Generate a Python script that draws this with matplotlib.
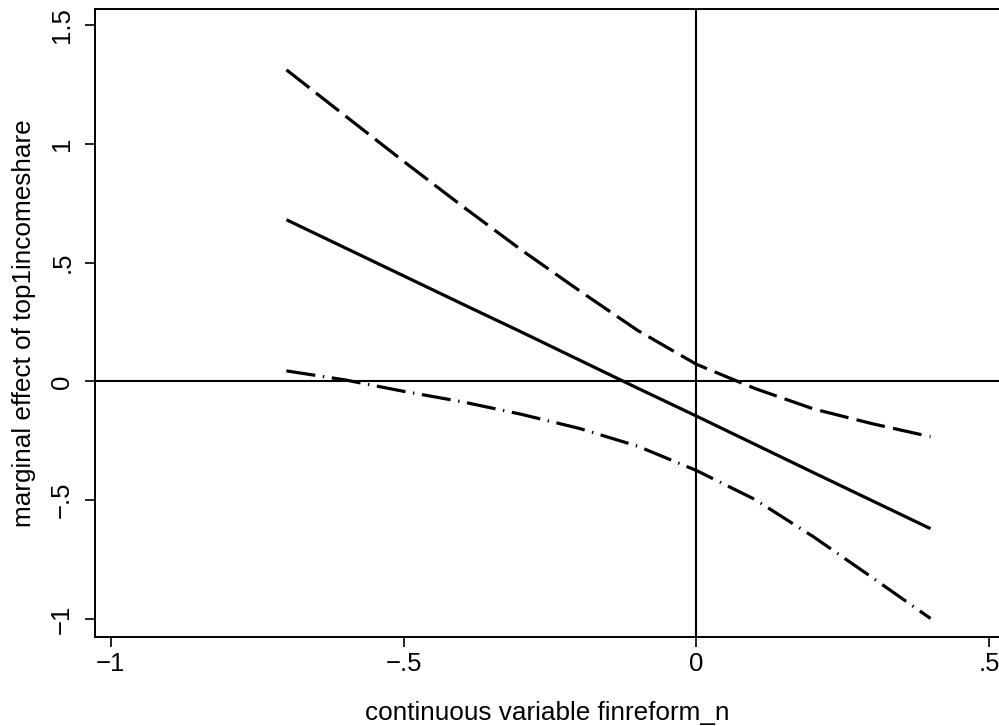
import matplotlib
matplotlib.use('Agg')
import matplotlib.pyplot as plt
import numpy as np

plt.rcParams['font.family'] = ['Liberation Sans', 'DejaVu Sans']
plt.rcParams['lines.scale_dashes'] = False

# values
finreform = [-0.7, -0.6, -0.5, -0.4, -0.3, -0.2, -0.1, 0.0, 0.1, 0.2, 0.3, 0.4]
effect = [0.68, 0.562, 0.444, 0.326, 0.209, 0.09, -0.029, -0.146, -0.265, -0.384, -0.502, -0.62]
upper = [1.311, 1.118, 0.926, 0.738, 0.555, 0.382, 0.214, 0.072, -0.030, -0.116, -0.178, -0.233]
lower = [0.044, 0.006, -0.042, -0.086, -0.138, -0.198, -0.273, -0.375, -0.497, -0.654, -0.825, -0.998]

xticks = [-1, -0.5, 0, 0.5]
xticklabels = ['\u22121', '\u2212.5', '0', '.5']
yticks = [-1, -0.5, 0, 0.5, 1, 1.5]
yticklabels = ['\u22121', '\u2212.5', '0', '.5', '1', '1.5']

fig = plt.figure(figsize=(9.99, 7.26), dpi=100)
ax = fig.add_axes([95/999, 1 - 637/726, 1 - 95/999, (637 - 9)/726])

ax.axhline(0, color='black', lw=1.5, zorder=1)
ax.axvline(0, color='black', lw=1.5, zorder=1)

ax.plot(finreform, effect, color='black', lw=2.3, solid_capstyle='butt')
ax.plot(finreform, upper, color='black', lw=2.3, dashes=(21, 6), dash_capstyle='butt')
ax.plot(finreform, lower, color='black', lw=2.3, dashes=(21, 5.5, 1, 5.5), dash_capstyle='butt')

ax.set_xlim(-1.027, 0.517)
ax.set_ylim(-1.076, 1.567)

ax.set_xticks(xticks)
ax.set_xticklabels(xticklabels)
ax.set_yticks(yticks)
ax.set_yticklabels(yticklabels, rotation=90, va='center')
ax.tick_params(axis='x', direction='out', length=7, width=1.2, labelsize=18.5, pad=4)
ax.tick_params(axis='y', direction='out', length=7, width=1.2, labelsize=18.5, pad=8)

ax.spines['right'].set_visible(False)
for s in ['left', 'bottom', 'top']:
    ax.spines[s].set_linewidth(1.4)

ax.set_xlabel('continuous variable finreform_n', fontsize=18.8, labelpad=18)
ax.set_ylabel('marginal effect of top1incomeshare', fontsize=18.8, labelpad=10)

fig.savefig('out.png', dpi=100)
